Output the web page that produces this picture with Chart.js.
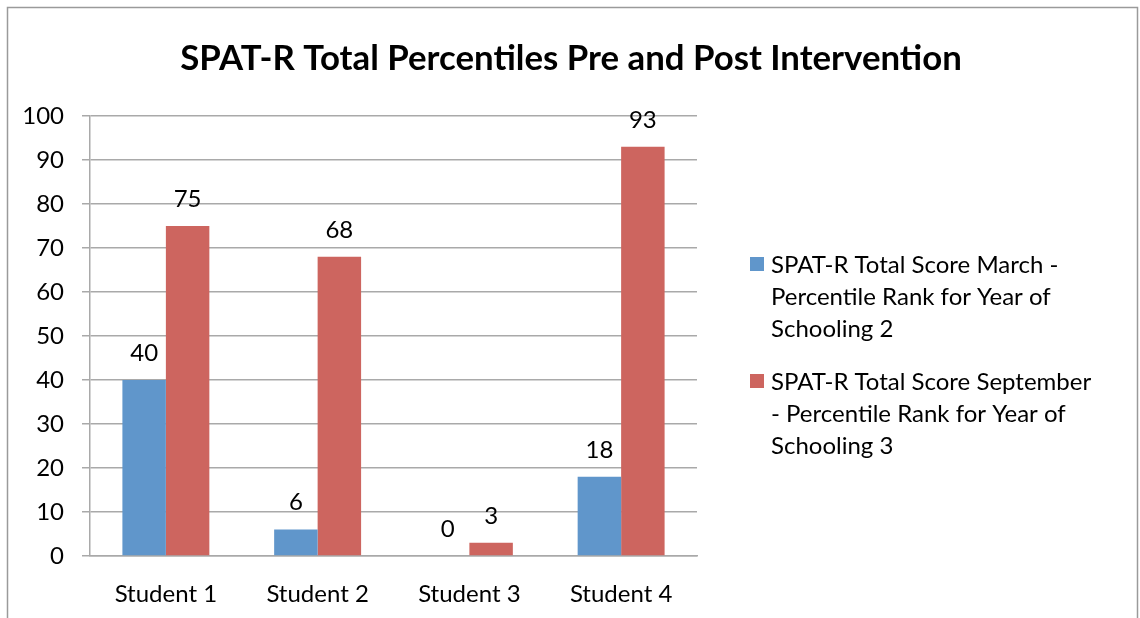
<!DOCTYPE html>
<html>
<head>
<meta charset="utf-8">
<script src="https://cdn.jsdelivr.net/npm/chart.js@4.4.1/dist/chart.umd.min.js"></script>
<style>
  html, body { margin: 0; padding: 0; background: #fff; }
  #wrap { width: 1140px; height: 618px; position: relative; }
</style>
</head>
<body>
<div id="wrap"><canvas id="chart" width="1140" height="618"></canvas></div>
<script>
// Chart content
const chartTitle = 'SPAT-R Total Percentiles Pre and Post Intervention';
const students = ['Student 1', 'Student 2', 'Student 3', 'Student 4'];
const marchScores = [40, 6, 0, 18];
const septemberScores = [75, 68, 3, 93];
const seriesNames = [
  ['SPAT-R Total Score March -', 'Percentile Rank for Year of', 'Schooling 2'],
  ['SPAT-R Total Score September', '- Percentile Rank for Year of', 'Schooling 3']
];
const yTicks = [0, 10, 20, 30, 40, 50, 60, 70, 80, 90, 100];

const FONT = 'Lato, "Liberation Sans", sans-serif';
const TEXT_SIZE = 24;
const BLUE = '#6096CB';
const RED = '#CD655F';
const GRID = '#A9A9A9';

// Outer frame and title
const framePlugin = {
  id: 'frame',
  beforeDraw(chart) {
    const ctx = chart.ctx;
    ctx.save();
    ctx.fillStyle = '#fff';
    ctx.fillRect(0, 0, chart.width, chart.height);
    ctx.strokeStyle = '#9a9a9a';
    ctx.lineWidth = 1.5;
    ctx.strokeRect(7.5, 7.5, 1130, 640);
    // title, sized to its span
    let size = 28;
    ctx.font = `bold ${size}px ${FONT}`;
    const w = ctx.measureText(chartTitle).width;
    size = size * 782 / w;
    ctx.font = `bold ${size}px ${FONT}`;
    ctx.fillStyle = '#000';
    ctx.textAlign = 'center';
    ctx.textBaseline = 'middle';
    ctx.fillText(chartTitle, 571, 59);
    ctx.restore();
  }
};

// Value labels above each bar
const valueLabels = {
  id: 'valueLabels',
  afterDatasetsDraw(chart) {
    const ctx = chart.ctx;
    ctx.save();
    ctx.font = `${TEXT_SIZE}px ${FONT}`;
    ctx.fillStyle = '#000';
    ctx.textAlign = 'center';
    ctx.textBaseline = 'middle';
    chart.data.datasets.forEach((ds, i) => {
      chart.getDatasetMeta(i).data.forEach((bar, j) => {
        ctx.fillText(String(ds.data[j]), bar.x, bar.y - 27);
      });
    });
    ctx.restore();
  }
};

// Legend with wrapped series names
const sideLegend = {
  id: 'sideLegend',
  afterDraw(chart) {
    const ctx = chart.ctx;
    ctx.save();
    ctx.font = `${TEXT_SIZE}px ${FONT}`;
    ctx.textBaseline = 'middle';
    ctx.textAlign = 'left';
    const starts = [265, 382];
    chart.data.datasets.forEach((ds, i) => {
      const y0 = starts[i];
      ctx.fillStyle = ds.backgroundColor;
      ctx.fillRect(750, y0 - 8, 14, 14);
      ctx.fillStyle = '#000';
      seriesNames[i].forEach((line, k) => {
        ctx.fillText(line, 771, y0 + k * 32);
      });
    });
    ctx.restore();
  }
};

new Chart(document.getElementById('chart'), {
  type: 'bar',
  data: {
    labels: students,
    datasets: [
      { label: seriesNames[0].join(' '), data: marchScores, backgroundColor: BLUE },
      { label: seriesNames[1].join(' '), data: septemberScores, backgroundColor: RED }
    ]
  },
  options: {
    responsive: false,
    animation: false,
    devicePixelRatio: 1,
    layout: { padding: { left: 0, right: 443, top: 116, bottom: 0 } },
    datasets: { bar: { categoryPercentage: 0.573, barPercentage: 1.0 } },
    plugins: {
      legend: { display: false },
      title: { display: false },
      tooltip: { enabled: false }
    },
    scales: {
      x: {
        grid: { display: false },
        border: { display: true, color: GRID, width: 1.5 },
        ticks: { color: '#000', font: { family: FONT, size: TEXT_SIZE }, padding: 16 },
        afterFit(scale) { scale.height = 62; }
      },
      y: {
        min: 0, max: 100,
        afterBuildTicks(scale) { scale.ticks = yTicks.map(v => ({ value: v })); },
        grid: { color: GRID, lineWidth: 1.5, tickLength: 8, drawTicks: true },
        border: { display: true, color: GRID, width: 1.5 },
        ticks: { color: '#000', font: { family: FONT, size: TEXT_SIZE }, padding: 18 },
        afterFit(scale) { scale.width = 90; }
      }
    }
  },
  plugins: [framePlugin, valueLabels, sideLegend]
});
</script>
</body>
</html>
